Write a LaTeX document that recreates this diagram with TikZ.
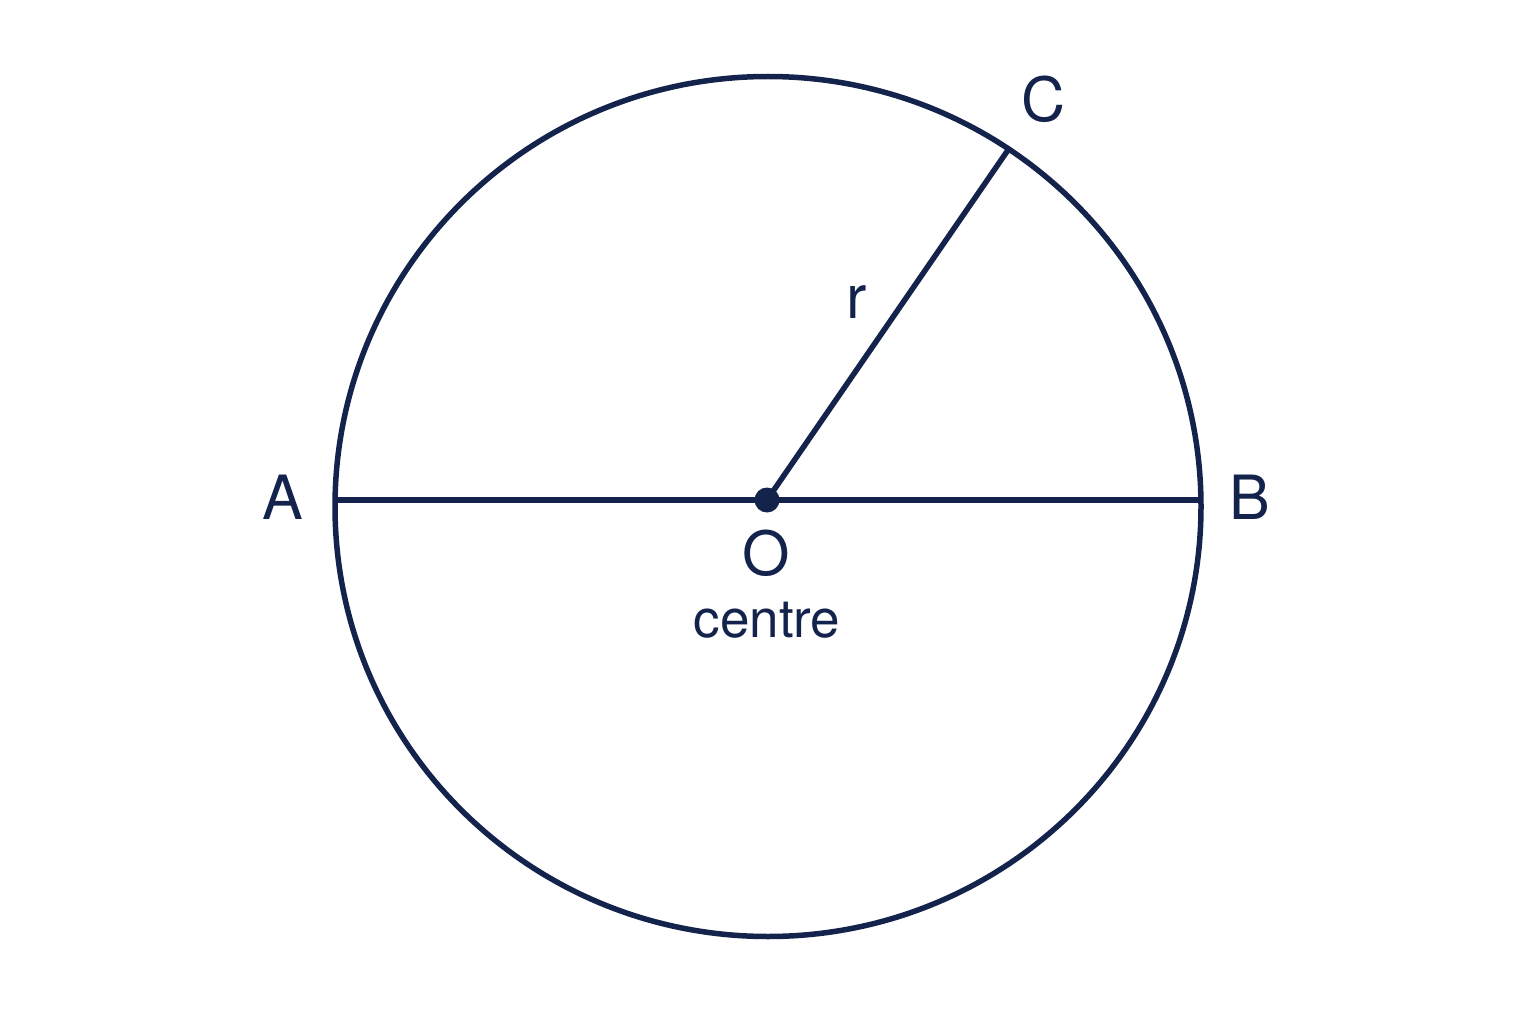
\documentclass[tikz,border=0pt]{standalone}
\usepackage{fontspec}
\setmainfont{TeX Gyre Heros}
\definecolor{navy}{HTML}{13234B}
\begin{document}
\begin{tikzpicture}[x=1pt,y=-1pt,
  geom/.style={draw=navy,line width=5.5pt},
  lbl/.style={text=navy,font=\fontsize{61}{61}\selectfont,inner sep=0pt,anchor=center},
  sub/.style={text=navy,font=\fontsize{53}{53}\selectfont,inner sep=0pt,anchor=base}]
\useasboundingbox[fill=white] (0,0) rectangle (1536,1024);
\coordinate (O) at (767,500);
\coordinate (A) at (335,500);
\coordinate (B) at (1201,500);
\coordinate (C) at (1008,150);
\draw[geom] (768,506.5) ellipse [x radius=433, y radius=430];
\draw[geom] (A) -- (B);
\draw[geom] (O) -- (C);
\fill[navy] (O) circle (12.5);
\node[lbl] (la) at (283,497) {A};
\node[lbl] (lb) at (1250,497) {B};
\node[lbl] (lc) at (1044,99) {C};
\node[lbl] (lo) at (766,553) {O};
\node[sub] (lcen) at (767,637) {centre};
\node[lbl] (lr) at (857,302) {r};
\end{tikzpicture}
\end{document}
